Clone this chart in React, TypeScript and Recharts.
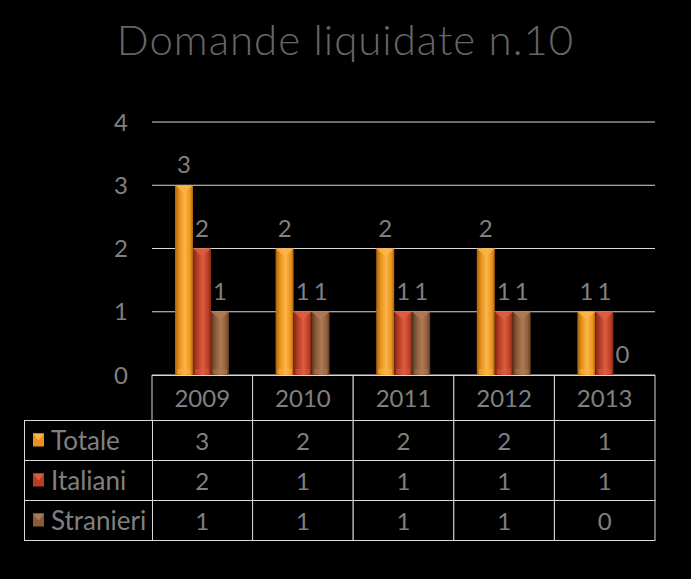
import { BarChart, Bar, XAxis, YAxis, CartesianGrid, LabelList } from "recharts";

const years = ["2009", "2010", "2011", "2012", "2013"];
const totale = [3, 2, 2, 2, 1];
const italiani = [2, 1, 1, 1, 1];
const stranieri = [1, 1, 1, 1, 0];
const yTicks = [0, 1, 2, 3, 4];

const series = [
  { key: "Totale", values: totale, base: "#E8921C", light: "#FDB548", dark: "#A9620C" },
  { key: "Italiani", values: italiani, base: "#B93C24", light: "#DC5E40", dark: "#7E2717" },
  { key: "Stranieri", values: stranieri, base: "#8C5C3A", light: "#AE7A55", dark: "#583820" },
];

const data = years.map((y, i) => ({
  year: y,
  Totale: totale[i],
  Italiani: italiani[i],
  Stranieri: stranieri[i],
}));

const W = 691;
const H = 579;
const plotLeft = 152;
const plotRight = 655;
const plotTop = 122;
const plotBottom = 375;
const band = (plotRight - plotLeft) / years.length;
const headerH = 45;
const rowH = 40;
const tableLeft = 24;
const textColor = "#808080";
const lineColor = "#d9d9d9";
const font = "Lato, 'DejaVu Sans', sans-serif";

const bevelBar = (s: (typeof series)[number]) => (props: any) => {
  const { x, y, width, height } = props;
  if (!height || height <= 0) return <g />;
  const id = "g-" + s.key;
  const cap = Math.min(width * 0.45, height / 2);
  return (
    <g>
      <defs>
        <linearGradient id={id} x1="0" y1="0" x2="1" y2="0">
          <stop offset="0%" stopColor={s.dark} />
          <stop offset="25%" stopColor={s.base} />
          <stop offset="55%" stopColor={s.light} />
          <stop offset="85%" stopColor={s.base} />
          <stop offset="100%" stopColor={s.dark} />
        </linearGradient>
      </defs>
      <rect x={x} y={y} width={width} height={height} fill={`url(#${id})`} />
      <polygon
        points={`${x},${y} ${x + width},${y} ${x + width / 2},${y + cap}`}
        fill={s.light}
        opacity={0.85}
      />
      <rect x={x + 2} y={y + height - 6} width={width - 4} height={5} fill={s.light} opacity={0.45} />
    </g>
  );
};

const TableTick = (props: any) => {
  const { x, payload, index } = props;
  const left = x - band / 2;
  const cells = [];
  cells.push(
    <g key="h">
      <rect x={left} y={plotBottom + 0.5} width={band} height={headerH} fill="#000" stroke={lineColor} />
      <text x={x} y={plotBottom + headerH / 2 + 9} textAnchor="middle" fill={textColor} fontSize={24} fontFamily={font}>
        {payload.value}
      </text>
    </g>
  );
  series.forEach((s, r) => {
    const top = plotBottom + 0.5 + headerH + r * rowH;
    cells.push(
      <g key={s.key}>
        <rect x={left} y={top} width={band} height={rowH} fill="#000" stroke={lineColor} />
        <text x={x} y={top + rowH / 2 + 9} textAnchor="middle" fill={textColor} fontSize={24} fontFamily={font}>
          {s.values[index]}
        </text>
      </g>
    );
    if (index === 0) {
      cells.push(
        <g key={"l" + s.key}>
          <rect x={tableLeft + 0.5} y={top} width={plotLeft - tableLeft} height={rowH} fill="#000" stroke={lineColor} />
          <rect x={tableLeft + 9} y={top + rowH / 2 - 7} width={11} height={13} fill={s.base} />
          <polygon
            points={`${tableLeft + 9},${top + rowH / 2 - 7} ${tableLeft + 20},${top + rowH / 2 - 7} ${tableLeft + 14.5},${top + rowH / 2}`}
            fill={s.light}
          />
          <text x={tableLeft + 27} y={top + rowH / 2 + 9} fill={textColor} fontSize={26} fontFamily={font}>
            {s.key}
          </text>
        </g>
      );
    }
  });
  return <g>{cells}</g>;
};

export default function App() {
  return (
    <div style={{ position: "relative", width: W, height: H, background: "#000" }}>
      <style>{"body{margin:0;background:#000}"}</style>
      <div
        style={{
          position: "absolute",
          top: 14,
          left: 0,
          width: W,
          textAlign: "center",
          color: "#666",
          fontFamily: font,
          fontSize: 42,
          fontWeight: 300,
          letterSpacing: 1,
        }}
      >
        Domande liquidate n.10
      </div>
      <BarChart
        width={W}
        height={H}
        data={data}
        margin={{ top: plotTop, right: W - plotRight, left: 92, bottom: 34 }}
        barGap={0}
        barSize={18}
      >
        <CartesianGrid vertical={false} stroke={lineColor} strokeWidth={1} />
        <YAxis
          domain={[0, 4]}
          ticks={yTicks}
          width={60}
          axisLine={false}
          tickLine={false}
          tickSize={0}
          tickMargin={24}
          tick={{ fill: textColor, fontSize: 24, fontFamily: font }}
        />
        <XAxis
          dataKey="year"
          height={H - plotBottom - 34}
          axisLine={false}
          tickLine={false}
          interval={0}
          tick={<TableTick />}
        />
        {series.map((s) => (
          <Bar key={s.key} dataKey={s.key} fill={s.base} shape={bevelBar(s)} isAnimationActive={false}>
            <LabelList dataKey={s.key} position="top" offset={12} fill={textColor} fontSize={24} fontFamily={font} />
          </Bar>
        ))}
      </BarChart>
    </div>
  );
}
